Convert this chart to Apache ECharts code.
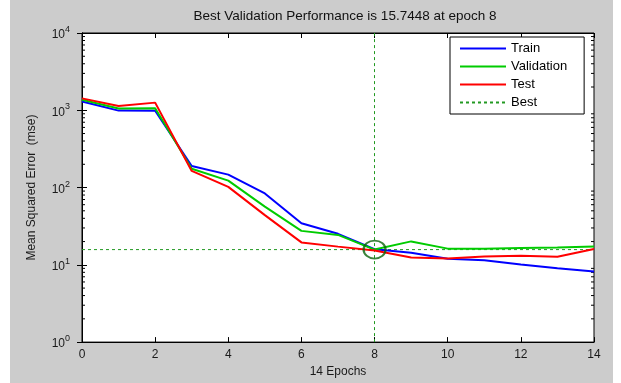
<!DOCTYPE html>
<html>
<head>
<meta charset="utf-8">
<script src="https://cdn.jsdelivr.net/npm/echarts@6/dist/echarts.min.js"></script>
<style>
html,body{margin:0;padding:0;background:#fff;}
#c{width:621px;height:383px;}
</style>
</head>
<body>
<div id="c"></div>
<script>
const epochs = [0,1,2,3,4,5,6,7,8,9,10,11,12,13,14];
const train = [1300, 990, 985, 190, 147, 84, 34.5, 25.2, 15.9, 14.3, 12.0, 11.5, 10.1, 9.0, 8.2];
const validation = [1370, 1055, 1060, 175, 123, 56.6, 27.5, 24.4, 15.7448, 20.1, 16.2, 16.2, 16.5, 16.7, 17.2];
const test = [1425, 1135, 1256, 164, 102, 44, 19.5, 17.2, 15.3, 12.4, 12.1, 12.8, 13.1, 12.7, 16.0];
const bestValue = 15.7448;
const bestEpoch = 8;
const xTicks = [0,2,4,6,8,10,12,14];
const yDecades = [1,10,100,1000,10000];
const titleText = 'Best Validation Performance is 15.7448 at epoch 8';

const pairs = arr => arr.map((v,i)=>[epochs[i], v]);
const minorVals = [];
for (let k = 0; k < 4; k++) for (let m = 2; m <= 9; m++) minorVals.push([0, m*Math.pow(10,k)]);

const font = 'Liberation Sans, Arial, sans-serif';
const chart = echarts.init(document.getElementById('c'), null, {renderer:'canvas'});
chart.setOption({
  animation:false,
  backgroundColor:'#fff',
  graphic:[{type:'rect', z:-10, shape:{x:10,y:0,width:603,height:383}, style:{fill:'#cccccc'}, silent:true}],
  title:{text:titleText, left:340, textAlign:'center', top:4,
    textStyle:{fontFamily:font, fontSize:13.5, fontWeight:'normal', color:'#111'}},
  grid:{left:82, right:27, top:33, bottom:38, show:true, backgroundColor:'#fff', borderColor:'#000', borderWidth:1},
  legend:{
    data:['Train','Validation','Test','Best'],
    orient:'vertical', left:450, top:37,
    backgroundColor:'#fff', borderColor:'#000', borderWidth:1, borderRadius:0,
    padding:[5,17,5,9], itemWidth:46, itemHeight:12, itemGap:5,
    itemStyle:{opacity:0},
    textStyle:{fontFamily:font, fontSize:13, color:'#000'}
  },
  xAxis:[{
    type:'value', min:0, max:14, interval:2,
    name:'14 Epochs', nameLocation:'middle', nameGap:22,
    nameTextStyle:{fontFamily:font, fontSize:12, color:'#1a1a1a'},
    axisLine:{show:true, lineStyle:{color:'#000'}},
    axisTick:{show:true, inside:true, length:5, lineStyle:{color:'#000'}},
    axisLabel:{fontFamily:font, fontSize:12, color:'#1a1a1a', margin:7},
    splitLine:{show:false}
  },{
    type:'value', min:0, max:14, interval:2, position:'top',
    axisLine:{show:true, lineStyle:{color:'#000'}},
    axisTick:{show:true, inside:true, length:5, lineStyle:{color:'#000'}},
    axisLabel:{show:false}, splitLine:{show:false}
  }],
  yAxis:[{
    type:'log', logBase:10, min:1, max:10000,
    name:'Mean Squared Error  (mse)', nameLocation:'middle', nameGap:44, nameRotate:90,
    nameTextStyle:{fontFamily:font, fontSize:12, color:'#1a1a1a'},
    axisLine:{show:true, lineStyle:{color:'#000'}},
    axisTick:{show:true, inside:true, length:5, lineStyle:{color:'#000'}},
    axisLabel:{margin:12, color:'#1a1a1a',
      formatter:function(v){ const e = Math.round(Math.log10(v)); return '{b|10}{s|'+e+'}'; },
      rich:{b:{fontFamily:font, fontSize:12, color:'#1a1a1a', padding:[4,0,0,0]},
            s:{fontFamily:font, fontSize:9, color:'#1a1a1a', verticalAlign:'top', padding:[0,0,6,0]}}},
    splitLine:{show:false}
  },{
    type:'log', logBase:10, min:1, max:10000, position:'right',
    axisLine:{show:true, lineStyle:{color:'#000'}},
    axisTick:{show:true, inside:true, length:5, lineStyle:{color:'#000'}},
    axisLabel:{show:false}, splitLine:{show:false}
  }],
  series:[
    {name:'Train', type:'line', data:pairs(train), symbol:'none', lineStyle:{color:'#0000ff', width:2}, itemStyle:{color:'#0000ff'}, z:3},
    {name:'Validation', type:'line', data:pairs(validation), symbol:'none', lineStyle:{color:'#00cc00', width:2}, itemStyle:{color:'#00cc00'}, z:4},
    {name:'Test', type:'line', data:pairs(test), symbol:'none', lineStyle:{color:'#ff0000', width:2}, itemStyle:{color:'#ff0000'}, z:5},
    {name:'Best', type:'line', data:[[0,bestValue],[14,bestValue]], symbol:'none',
      lineStyle:{color:'#229922', width:1, type:[3,3]}, itemStyle:{color:'#229922'}, z:2,
      markLine:{silent:true, symbol:'none', label:{show:false},
        lineStyle:{color:'#229922', width:1, type:[3,3]},
        data:[{xAxis:bestEpoch}]}},
    {name:'bestCircle', type:'scatter', data:[[bestEpoch,bestValue]], symbol:'circle', symbolSize:[22,18],
      itemStyle:{color:'rgba(0,0,0,0)', borderColor:'#0a640a', borderWidth:2}, z:6, silent:true},
    {name:'minorTicks', type:'custom', data:minorVals, silent:true, z:1,
      renderItem:function(params, api){
        const v = api.value(1);
        const l = api.coord([0, v]);
        const r = api.coord([14, v]);
        return {type:'group', children:[
          {type:'line', shape:{x1:l[0], y1:l[1], x2:l[0]+3, y2:l[1]}, style:{stroke:'#000', lineWidth:1}},
          {type:'line', shape:{x1:r[0]-3, y1:r[1], x2:r[0], y2:r[1]}, style:{stroke:'#000', lineWidth:1}}
        ]};
      }}
  ]
});
</script>
</body>
</html>
